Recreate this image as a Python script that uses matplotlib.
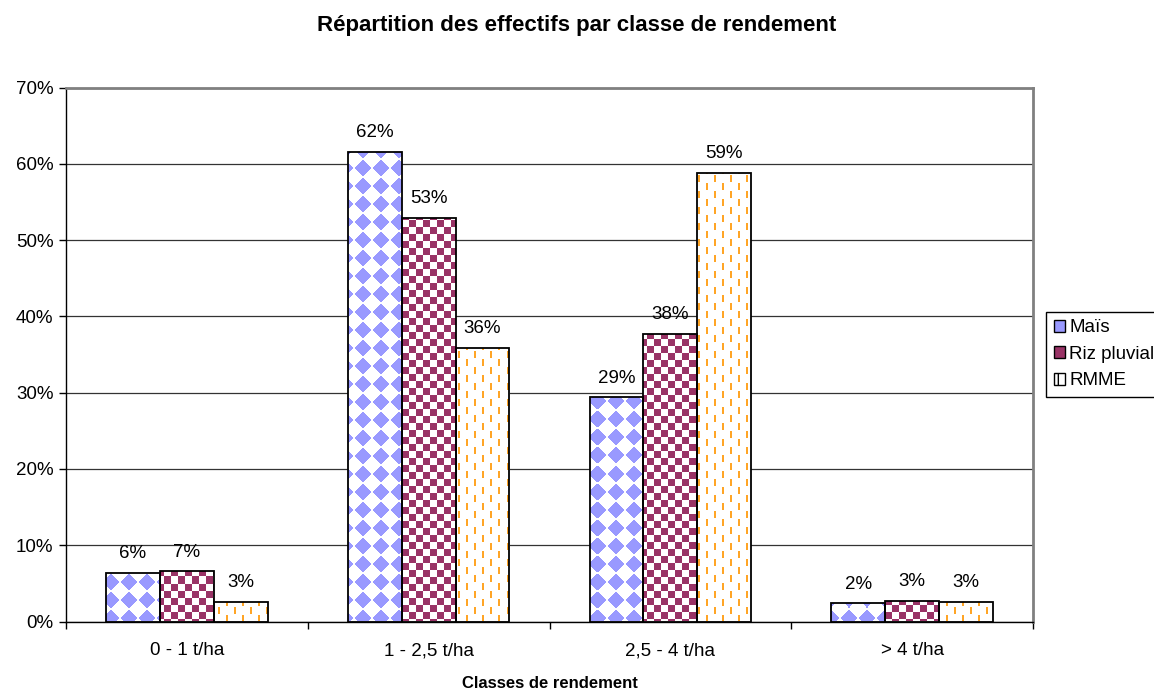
import numpy as np
import matplotlib
matplotlib.use("Agg")
import matplotlib.pyplot as plt
from matplotlib.patches import Patch

plt.rcParams['font.family'] = ['Liberation Sans', 'DejaVu Sans']

categories = ["0 - 1 t/ha", "1 - 2,5 t/ha", "2,5 - 4 t/ha", "> 4 t/ha"]
series_names = ["Maïs", "Riz pluvial", "RMME"]
mais = [6.4, 61.6, 29.4, 2.4]
riz = [6.6, 52.9, 37.7, 2.7]
rmme = [2.6, 35.9, 58.8, 2.6]
yticks = [0, 10, 20, 30, 40, 50, 60, 70]

colors = ["#9999FF", "#993366", "#FFA526"]

W, H = 1154, 689
fig = plt.figure(figsize=(W / 100, H / 100), dpi=100)
ax_l, ax_r, ax_t, ax_b = 66, 1033, 87.5, 621.5
ax = fig.add_axes([ax_l / W, 1 - ax_b / H, (ax_r - ax_l) / W, (ax_b - ax_t) / H])
xmin, xmax, ymin, ymax = -0.5, 3.5, 0, 70
ax.set_xlim(xmin, xmax)
ax.set_ylim(ymin, ymax)

# pixel patterns
pw, ph = int(round(ax_r - ax_l)), int(round(ax_b - ax_t))
yy, xx = np.mgrid[0:ph, 0:pw]


def rgba(hexc):
    return np.array(matplotlib.colors.to_rgba(hexc))


def make(mask, hexc):
    arr = np.ones((ph, pw, 4))
    arr[mask] = rgba(hexc)
    return arr


P = 18
dx = np.abs((xx % P) - P / 2 + 0.5)
dy = np.abs((yy % P) - P / 2 + 0.5)
diam = (dx + dy) < 8.2
S = 7
check = ((xx // S) + (yy // S)) % 2 == 0
col = xx % 8
rowoff = np.where((xx // 8) % 2 == 0, 0, 8)
dash = (col < 2) & (((yy + rowoff) % 16) < 7)
patterns = [make(diam, colors[0]), make(check, colors[1]), make(dash, colors[2])]

ax.set_axisbelow(True)
ax.yaxis.grid(True, color="#333333", linewidth=0.9, zorder=0)

x = np.arange(len(categories))
bw = 0.223
allvals = [mais, riz, rmme]
for i, vals in enumerate(allvals):
    pos = x + (i - 1) * bw
    bars = ax.bar(pos, vals, bw, facecolor="white", edgecolor="none", zorder=2)
    for b in bars:
        im = ax.imshow(patterns[i], extent=(xmin, xmax, ymin, ymax), origin="upper",
                       interpolation="nearest", aspect="auto", zorder=2.5)
        im.set_clip_path(b)
    ax.bar(pos, vals, bw, fill=False, edgecolor="black", linewidth=1.3, zorder=3)
    for p, v in zip(pos, vals):
        ax.annotate(f"{v:.0f}%", (p, v), xytext=(0, 10.5), textcoords="offset points",
                    ha="center", va="baseline", fontsize=13.5)

ax.set_xlim(xmin, xmax)
ax.set_ylim(ymin, ymax)
ax.set_yticks(yticks)
ax.set_yticklabels([f"{t}%" for t in yticks], fontsize=13.5)
ax.set_xticks(x)
ax.set_xticklabels(categories, fontsize=13.5)
ax.tick_params(axis="x", length=0, pad=15)
ax.set_xticks(np.arange(-0.5, 4, 1), minor=True)
ax.tick_params(axis="x", which="minor", length=5, direction="out", width=1)
ax.tick_params(axis="y", length=5, direction="out", width=1, pad=4)
for s in ["left", "bottom"]:
    ax.spines[s].set_color("black")
    ax.spines[s].set_linewidth(1.0)
for s in ["top", "right"]:
    ax.spines[s].set_color("#808080")
    ax.spines[s].set_linewidth(2)

ax.set_xlabel("Classes de rendement", fontsize=12, fontweight="bold", labelpad=12)
fig.text(0.5, 1 - 26 / H, "Répartition des effectifs par classe de rendement",
         ha="center", va="center", fontsize=16, fontweight="bold")

handles = [Patch(facecolor=colors[0], edgecolor="black"),
           Patch(facecolor=colors[1], edgecolor="black"),
           Patch(facecolor="white", edgecolor="black", hatch="|")]
leg = fig.legend(handles, series_names, loc="upper left",
                 bbox_to_anchor=(1046 / W, 1 - 312 / H), fontsize=13.5,
                 frameon=True, fancybox=False, edgecolor="black", framealpha=1,
                 handlelength=0.6, handleheight=0.6, handletextpad=0.25,
                 borderaxespad=0, borderpad=0.4, labelspacing=0.5)
leg.get_frame().set_linewidth(1.0)

fig.savefig("out.png", dpi=100)
